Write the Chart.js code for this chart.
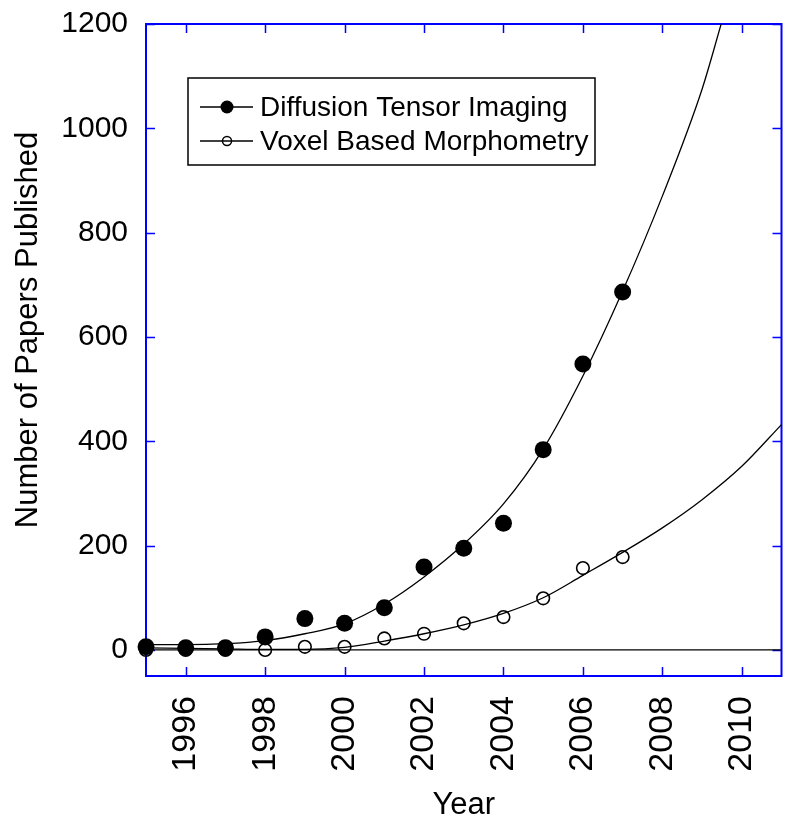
<!DOCTYPE html>
<html>
<head>
<meta charset="utf-8">
<script src="https://cdn.jsdelivr.net/npm/chart.js@4/dist/chart.umd.min.js"></script>
<style>
html,body{margin:0;padding:0;background:#fff;}
#wrap{width:790px;height:832px;}
</style>
</head>
<body>
<div id="wrap"><canvas id="c" width="790" height="832"></canvas></div>
<script>
// ---- data ----
const years = [1995,1996,1997,1998,1999,2000,2001,2002,2003,2004,2005,2006,2007];
const dtiCounts = [6,4,4,25,60,51,81,159,195,243,384,548,686];
const vbmCounts = [0,0,0,0,6,6,22,31,51,63,99,157,178];

const dtiFitYears  = [1995,1996,1997,1998,1999,2000,2001,2002,2003,2004,2005,2006,2007,2008,2009,2009.5];
const dtiFitValues = [10,10,12,18,31,50,88,140,203,280,385,525,688,870,1075,1205];

const vbmFitYears  = [1995,1996,1997,1998,1999,2000,2001,2002,2003,2004,2005,2006,2007,2008,2009,2010,2011];
const vbmFitValues = [4,3,2,1,1,5,17,31,48,70,100,143,187,234,288,352,432];

const zeroLineYears  = [1995,2011];
const zeroLineValues = [0,0];

const xTickValues = [1996,1998,2000,2002,2004,2006,2008,2010];
const yTickValues = [0,200,400,600,800,1000,1200];

const seriesNames = ['Diffusion Tensor Imaging','Voxel Based Morphometry'];
const xTitle = 'Year';
const yTitle = 'Number of Papers Published';

// ---- helpers ----
const pts = (xs, ys) => xs.map((x, i) => ({x: x, y: ys[i]}));
const FONT = '"Liberation Sans", Arial, sans-serif';
const BLUE = '#0000ff';

const framePlugin = {
  id: 'frame',
  beforeDatasetsDraw(chart) {
    const {ctx, chartArea: a, scales: {x, y}} = chart;
    ctx.save();
    ctx.strokeStyle = BLUE;
    ctx.lineWidth = 2;
    ctx.strokeRect(a.left, a.top, a.right - a.left, a.bottom - a.top);
    ctx.lineWidth = 1.5;
    const L = 9;
    ctx.beginPath();
    x.ticks.forEach(t => {
      const px = Math.round(x.getPixelForValue(t.value)) + 0.5;
      ctx.moveTo(px, a.bottom); ctx.lineTo(px, a.bottom - L);
      ctx.moveTo(px, a.top); ctx.lineTo(px, a.top + L);
    });
    y.ticks.forEach(t => {
      const py = Math.round(y.getPixelForValue(t.value)) + 0.5;
      ctx.moveTo(a.left, py); ctx.lineTo(a.left + L, py);
      ctx.moveTo(a.right, py); ctx.lineTo(a.right - L, py);
    });
    ctx.stroke();
    ctx.restore();
  }
};

const legendPlugin = {
  id: 'boxLegend',
  afterDatasetsDraw(chart) {
    const {ctx, chartArea: a} = chart;
    const bx = a.left + 42, by = a.top + 54, bw = 407, bh = 87;
    ctx.save();
    ctx.fillStyle = '#fff';
    ctx.fillRect(bx, by, bw, bh);
    ctx.strokeStyle = '#000';
    ctx.lineWidth = 1.5;
    ctx.strokeRect(bx, by, bw, bh);
    const rows = [by + 29, by + 63];
    rows.forEach((ry, i) => {
      ctx.strokeStyle = '#000';
      ctx.lineWidth = 1.3;
      ctx.beginPath();
      ctx.moveTo(bx + 12, ry); ctx.lineTo(bx + 65, ry);
      ctx.stroke();
      ctx.beginPath();
      if (i === 0) {
        ctx.arc(bx + 39, ry, 6.5, 0, Math.PI * 2);
        ctx.fillStyle = '#000';
        ctx.fill();
      } else {
        ctx.arc(bx + 39, ry, 4.5, 0, Math.PI * 2);
        ctx.lineWidth = 1.5;
        ctx.stroke();
      }
      ctx.fillStyle = '#000';
      ctx.font = '28px ' + FONT;
      ctx.textAlign = 'left';
      ctx.textBaseline = 'middle';
      ctx.fillText(seriesNames[i], bx + 72, ry + 1);
    });
    ctx.restore();
  }
};

const yTitlePlugin = {
  id: 'yTitle',
  afterDraw(chart) {
    const {ctx, chartArea: a} = chart;
    ctx.save();
    ctx.translate(28, a.top + 306);
    ctx.rotate(-Math.PI / 2);
    ctx.fillStyle = '#000';
    ctx.font = '31px ' + FONT;
    ctx.textAlign = 'center';
    ctx.textBaseline = 'middle';
    ctx.fillText(yTitle, 0, 0);
    ctx.restore();
  }
};

new Chart(document.getElementById('c'), {
  type: 'scatter',
  data: {
    datasets: [
      {
        label: seriesNames[0],
        data: pts(years, dtiCounts),
        showLine: false,
        pointRadius: 8.5,
        pointHoverRadius: 8.5,
        pointBackgroundColor: '#000',
        pointBorderColor: '#000',
        pointBorderWidth: 0,
        clip: false
      },
      {
        label: seriesNames[1],
        data: pts(years, vbmCounts),
        showLine: false,
        pointRadius: 6.3,
        pointHoverRadius: 6.3,
        pointBackgroundColor: 'rgba(0,0,0,0)',
        pointBorderColor: '#000',
        pointBorderWidth: 1.6,
        clip: false
      },
      {
        label: 'DTI fit',
        data: pts(dtiFitYears, dtiFitValues),
        showLine: true,
        pointRadius: 0,
        borderColor: '#000',
        borderWidth: 1.3,
        cubicInterpolationMode: 'monotone',
        clip: 0
      },
      {
        label: 'VBM fit',
        data: pts(vbmFitYears, vbmFitValues),
        showLine: true,
        pointRadius: 0,
        borderColor: '#000',
        borderWidth: 1.3,
        cubicInterpolationMode: 'monotone',
        clip: 0
      },
      {
        label: 'zero',
        data: pts(zeroLineYears, zeroLineValues),
        showLine: true,
        pointRadius: 0,
        borderColor: '#000',
        borderWidth: 1.3,
        clip: 0
      }
    ]
  },
  options: {
    responsive: false,
    animation: false,
    events: [],
    layout: {padding: {left: 0, right: 7, top: 24, bottom: 0}},
    plugins: {
      legend: {display: false},
      tooltip: {enabled: false},
      title: {display: false}
    },
    scales: {
      x: {
        type: 'linear',
        min: 1995,
        max: 2011,
        afterBuildTicks: s => { s.ticks = xTickValues.map(v => ({value: v})); },
        afterFit: s => { s.height = 156; s.paddingLeft = 0; s.paddingRight = 0; },
        grid: {display: false, drawTicks: false},
        border: {display: false},
        ticks: {
          autoSkip: false,
          minRotation: 90,
          maxRotation: 90,
          padding: 20,
          color: '#000',
          font: {family: FONT, size: 34},
          callback: v => String(v)
        },
        title: {
          display: true,
          text: xTitle,
          color: '#000',
          font: {family: FONT, size: 31},
          padding: {top: 0, bottom: 8}
        }
      },
      y: {
        type: 'linear',
        min: -50,
        max: 1200,
        afterBuildTicks: s => { s.ticks = yTickValues.map(v => ({value: v})); },
        afterFit: s => { s.width = 146; s.paddingTop = 0; s.paddingBottom = 0; },
        grid: {display: false, drawTicks: false},
        border: {display: false},
        ticks: {
          padding: 18,
          color: '#000',
          font: {family: FONT, size: 30},
          callback: v => String(v)
        }
      }
    }
  },
  plugins: [framePlugin, legendPlugin, yTitlePlugin]
});
</script>
</body>
</html>
